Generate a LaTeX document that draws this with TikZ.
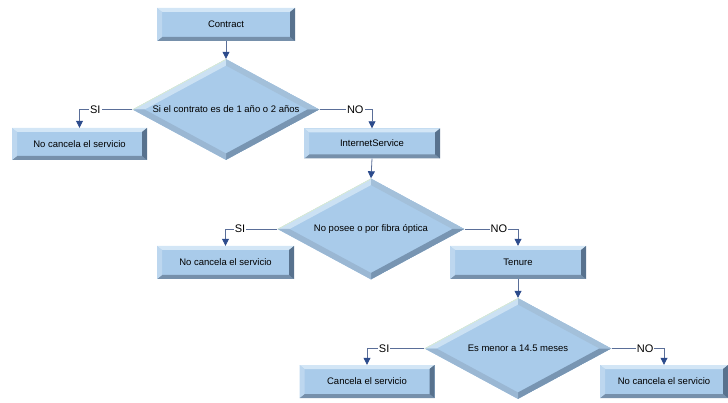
\documentclass[tikz,border=0pt]{standalone}
\usepackage{fontspec}
\setmainfont{Liberation Sans}
\usetikzlibrary{shapes.geometric,arrows.meta,calc}
\definecolor{face}{HTML}{A9CBEA}
\definecolor{btop}{HTML}{D3E6F6}
\definecolor{bleft}{HTML}{BDD7EF}
\definecolor{bbot}{HTML}{7690AB}
\definecolor{bright}{HTML}{58728E}
\definecolor{dtl}{HTML}{CBE1F3}
\definecolor{dtr}{HTML}{A3C0DA}
\definecolor{dbr}{HTML}{7895B2}
\definecolor{dbl}{HTML}{9AB7D3}
\definecolor{dhl}{HTML}{DCEEC8}
\definecolor{linec}{HTML}{5A6E98}
\definecolor{arrowc}{HTML}{2C4B8C}
\tikzset{
  bx/.style={rectangle, inner sep=0pt, minimum height=33pt, fill=face,
    font=\fontsize{9.5}{11}\selectfont,
    path picture={
      \path (path picture bounding box.north west) coordinate (pNW)
            (path picture bounding box.north east) coordinate (pNE)
            (path picture bounding box.south west) coordinate (pSW)
            (path picture bounding box.south east) coordinate (pSE);
      \fill[btop] (pNW) -- (pNE) -- ($(pNE)+(-5pt,-4pt)$) -- ($(pNW)+(5pt,-4pt)$) -- cycle;
      \fill[bbot] (pSW) -- (pSE) -- ($(pSE)+(-5pt,4pt)$) -- ($(pSW)+(5pt,4pt)$) -- cycle;
      \fill[bleft] (pNW) -- ($(pNW)+(5pt,-4pt)$) -- ($(pSW)+(5pt,4pt)$) -- (pSW) -- cycle;
      \fill[bright] (pNE) -- ($(pNE)+(-5pt,-4pt)$) -- ($(pSE)+(-5pt,4pt)$) -- (pSE) -- cycle;
    }},
  dm/.style={diamond, inner sep=0pt, aspect=1.84, minimum width=187pt, minimum height=101pt,
    fill=face, font=\fontsize{9.5}{11}\selectfont,
    path picture={
      \path (path picture bounding box.north) coordinate (pN)
            (path picture bounding box.east) coordinate (pE)
            (path picture bounding box.south) coordinate (pS)
            (path picture bounding box.west) coordinate (pW);
      \fill[dtl] (pW) -- (pN) -- ($(pN)+(0pt,-6.5pt)$) -- ($(pW)+(12pt,0pt)$) -- cycle;
      \fill[dtr] (pN) -- (pE) -- ($(pE)+(-12pt,0pt)$) -- ($(pN)+(0pt,-6.5pt)$) -- cycle;
      \fill[dbr] (pE) -- (pS) -- ($(pS)+(0pt,6.5pt)$) -- ($(pE)+(-12pt,0pt)$) -- cycle;
      \fill[dbl] (pS) -- (pW) -- ($(pW)+(12pt,0pt)$) -- ($(pS)+(0pt,6.5pt)$) -- cycle;
      \draw[dhl, line width=1pt] (pW) -- (pN);
    }},
  conn/.style={draw=linec, line width=0.8pt, -{Triangle[width=7pt,length=7pt,color=arrowc]}},
  lbl/.style={fill=white, inner sep=1pt, font=\fontsize{11}{12}\selectfont, text=black}
}
\begin{document}
\begin{tikzpicture}[x=1pt,y=-1pt]
\useasboundingbox (0,0) rectangle (728,403);
\node[bx, minimum width=138pt] (c0) at (226,24.5) {Contract};
\node[dm] (d1) at (226,109.5) {Si el contrato es de 1 año o 2 años};
\node[bx, minimum width=135pt, minimum height=32pt] (b1) at (79.5,144) {No cancela el servicio};
\node[bx, minimum width=136pt, minimum height=30pt] (is) at (372,143.5) {InternetService};
\node[dm] (d2) at (371,229) {No posee o por fibra óptica};
\node[bx, minimum width=137pt] (b2) at (225.5,262.5) {No cancela el servicio};
\node[bx, minimum width=136pt] (tn) at (518,262.5) {Tenure};
\node[dm] (d3) at (518,348.5) {Es menor a 14.5 meses};
\node[bx, minimum width=135pt] (b3) at (367,381.5) {Cancela el servicio};
\node[bx, minimum width=128pt] (b4) at (664,381.5) {No cancela el servicio};

\draw[conn] (c0.south) -- (d1.north);
\draw[conn] (d1.west) -| node[lbl, pos=0.35] {SI} (b1.north);
\draw[conn] (d1.east) -| node[lbl, pos=0.34] {NO} (is.north);
\draw[conn] (is.south) -- (d2.north);
\draw[conn] (d2.west) -| node[lbl, pos=0.36] {SI} (b2.north);
\draw[conn] (d2.east) -| node[lbl, pos=0.32] {NO} (tn.north);
\draw[conn] (tn.south) -- (d3.north);
\draw[conn] (d3.west) -| node[lbl, pos=0.35] {SI} (b3.north);
\draw[conn] (d3.east) -| node[lbl, pos=0.32] {NO} (b4.north);
\end{tikzpicture}
\end{document}
